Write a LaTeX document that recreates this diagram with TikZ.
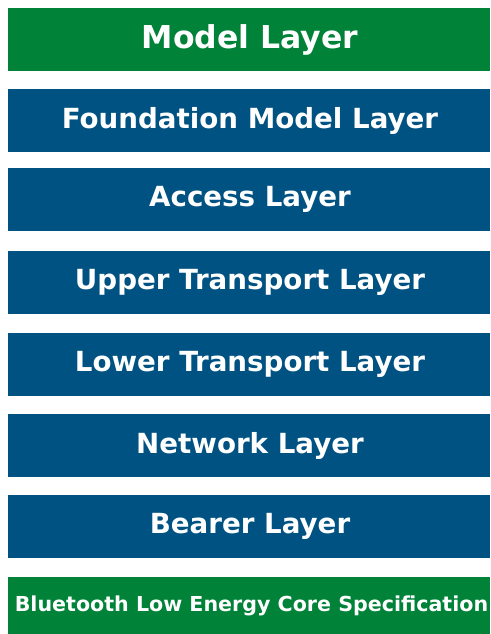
\documentclass[tikz,border=0pt]{standalone}
\usepackage{fontspec}
\setmainfont{DejaVu Sans}
\definecolor{lgreen}{RGB}{0,130,56}
\definecolor{lblue}{RGB}{0,82,130}
\begin{document}
\begin{tikzpicture}[x=1pt,y=-1pt,
  layer/.style={rectangle, inner sep=0pt, minimum width=482pt, text=white, font=\bfseries\fontsize{27.7}{32}\selectfont},
  bluebox/.style={layer, fill=lblue, minimum height=63pt},
  greenbox/.style={layer, fill=lgreen}]
\useasboundingbox (0,0) rectangle (490,634);
\node[greenbox, minimum height=63pt, font=\bfseries\fontsize{31.5}{36}\selectfont] (model) at (249,39.5) {\hspace*{2pt}Model Layer};
\node[bluebox] (found) at (249,120.5) {\hspace*{2pt}Foundation Model Layer};
\node[bluebox] (access) at (249,199.5) {\hspace*{2pt}Access Layer};
\node[bluebox] (upper) at (249,282.5) {\hspace*{2pt}Upper Transport Layer};
\node[bluebox] (lower) at (249,364.5) {\hspace*{2pt}Lower Transport Layer};
\node[bluebox] (network) at (249,445.5) {\hspace*{2pt}Network Layer};
\node[bluebox] (bearer) at (249,526.5) {\hspace*{2pt}Bearer Layer};
\node[greenbox, minimum height=57pt, font=\bfseries\fontsize{20.6}{24}\selectfont] (core) at (249,605.5) {\hspace*{5pt}Bluetooth Low Energy Core Specification};
\end{tikzpicture}
\end{document}
